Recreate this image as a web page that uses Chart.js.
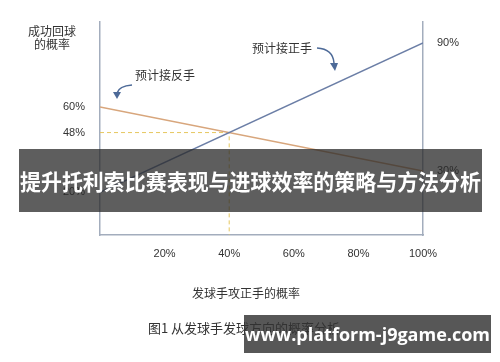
<!DOCTYPE html>
<html>
<head>
<meta charset="utf-8">
<script src="https://cdn.jsdelivr.net/npm/chart.js@4/dist/chart.umd.min.js"></script>
<style>
  html, body { margin:0; padding:0; background:#fff; }
  #wrap { position:relative; width:500px; height:362px; overflow:hidden; }
  canvas { position:absolute; left:0; top:0; }
  .banner { position:absolute; left:19px; top:149px; width:463px; height:63px; background:rgba(40,40,40,0.75); overflow:hidden; }
  .banner span { position:absolute; left:0; top:0; display:inline-block; color:#fff; font:bold 22px "Noto Sans CJK SC", sans-serif;
    line-height:63px; white-space:nowrap; transform-origin:0 50%; }
  .wm { position:absolute; left:244px; top:315px; width:247px; height:38px; background:rgba(50,50,50,0.82);
    color:#fff; font:bold 18px "Open Sans", "DejaVu Sans", sans-serif; line-height:38px; text-align:center; white-space:nowrap; }
</style>
</head>
<body>
<div id="wrap">
<canvas id="c" width="500" height="362"></canvas>
<div class="banner"><span id="bt">提升托利索比赛表现与进球效率的策略与方法分析</span></div>
<div class="wm">www.platform-j9game.com</div>
</div>
<script>
// ---- data ----
const xTicks = [20, 40, 60, 80, 100];
const leftTicks = [20, 48, 60];
const rightTicks = [30, 90];
const probX = [0, 100];
const forehandY = [20, 90];   // 预计接正手
const backhandY = [60, 30];   // 预计接反手
const crossX = 40, crossY = 48;
const yTitle = ['成功回球', '的概率'];
const xTitle = '发球手攻正手的概率';
const caption = '图1 从发球手发球方向的概率分析';
const noteBack = '预计接反手';
const noteFore = '预计接正手';

// fit banner text to 461px
(function () {
  const s = document.getElementById('bt');
  const w = s.getBoundingClientRect().width || 1;
  s.style.transform = 'translateX(1px) scaleX(' + (461 / w) + ')';
})();

const pct = v => v + '%';
const font = { family: '"Liberation Sans", Arial, sans-serif', size: 11 };

const overlay = {
  id: 'overlay',
  afterDraw(chart) {
    const ctx = chart.ctx;
    ctx.save();
    ctx.fillStyle = '#333';
    ctx.textAlign = 'center';
    ctx.textBaseline = 'middle';
    ctx.font = '12px "Noto Sans CJK SC", sans-serif';
    ctx.fillText(yTitle[0], 52, 31);
    ctx.fillText(yTitle[1], 52, 44);
    ctx.fillText(xTitle, 246, 293);
    ctx.font = '13px "Noto Sans CJK SC", sans-serif';
    ctx.fillText(caption, 244, 328);
    ctx.font = '12px "Noto Sans CJK SC", sans-serif';
    ctx.fillText(noteBack, 165, 75);
    ctx.fillText(noteFore, 282, 48);

    // arrows
    ctx.strokeStyle = '#4d6a98';
    ctx.fillStyle = '#4d6a98';
    ctx.lineWidth = 1.5;
    ctx.beginPath();
    ctx.moveTo(132, 85);
    ctx.quadraticCurveTo(119, 86, 117, 93);
    ctx.stroke();
    ctx.beginPath();
    ctx.moveTo(113, 92); ctx.lineTo(121, 92); ctx.lineTo(117, 99); ctx.closePath(); ctx.fill();

    ctx.beginPath();
    ctx.moveTo(317, 48);
    ctx.quadraticCurveTo(333, 49, 334, 63);
    ctx.stroke();
    ctx.beginPath();
    ctx.moveTo(330, 63); ctx.lineTo(338, 63); ctx.lineTo(335, 71); ctx.closePath(); ctx.fill();
    ctx.restore();
  }
};

new Chart(document.getElementById('c'), {
  type: 'scatter',
  data: {
    datasets: [
      { label: noteFore, data: probX.map((x, i) => ({ x, y: forehandY[i] })), showLine: true,
        borderColor: '#6b7ea6', borderWidth: 1.4, pointRadius: 0, yAxisID: 'y' },
      { label: noteBack, data: probX.map((x, i) => ({ x, y: backhandY[i] })), showLine: true,
        borderColor: '#d8a67c', borderWidth: 1.4, pointRadius: 0, yAxisID: 'y' },
      { label: 'guide', data: [{ x: probX[0], y: crossY }, { x: crossX, y: crossY }, { x: crossX, y: 0 }], showLine: true,
        borderColor: '#e6c75e', borderWidth: 1, borderDash: [4, 3], pointRadius: 0, yAxisID: 'y' }
    ]
  },
  options: {
    responsive: false,
    animation: false,
    layout: { padding: { top: 15, left: 0, right: 0, bottom: 0 } },
    plugins: { legend: { display: false }, tooltip: { enabled: false } },
    scales: {
      x: {
        type: 'linear', min: 0, max: 100,
        afterBuildTicks: s => { s.ticks = xTicks.map(v => ({ value: v })); },
        afterFit: s => { s.height = 127; },
        grid: { display: false, drawTicks: false },
        border: { display: true, color: '#a3adbd', width: 1.5 },
        ticks: { callback: pct, padding: 12, color: '#333', font, maxRotation: 0, autoSkip: false }
      },
      y: {
        type: 'linear', position: 'left', min: 0, max: 100,
        afterBuildTicks: s => { s.ticks = leftTicks.map(v => ({ value: v })); },
        afterFit: s => { s.width = 100; },
        grid: { display: false, drawTicks: false },
        border: { display: true, color: '#a3adbd', width: 1.5 },
        ticks: { callback: pct, padding: 15, color: '#333', font, autoSkip: false }
      },
      y2: {
        type: 'linear', position: 'right', min: 0, max: 100,
        afterBuildTicks: s => { s.ticks = rightTicks.map(v => ({ value: v })); },
        afterFit: s => { s.width = 77; },
        grid: { display: false, drawTicks: false },
        border: { display: true, color: '#a3adbd', width: 1.5 },
        ticks: { callback: pct, padding: 14, color: '#333', font, autoSkip: false }
      }
    }
  },
  plugins: [overlay]
});
</script>
</body>
</html>
